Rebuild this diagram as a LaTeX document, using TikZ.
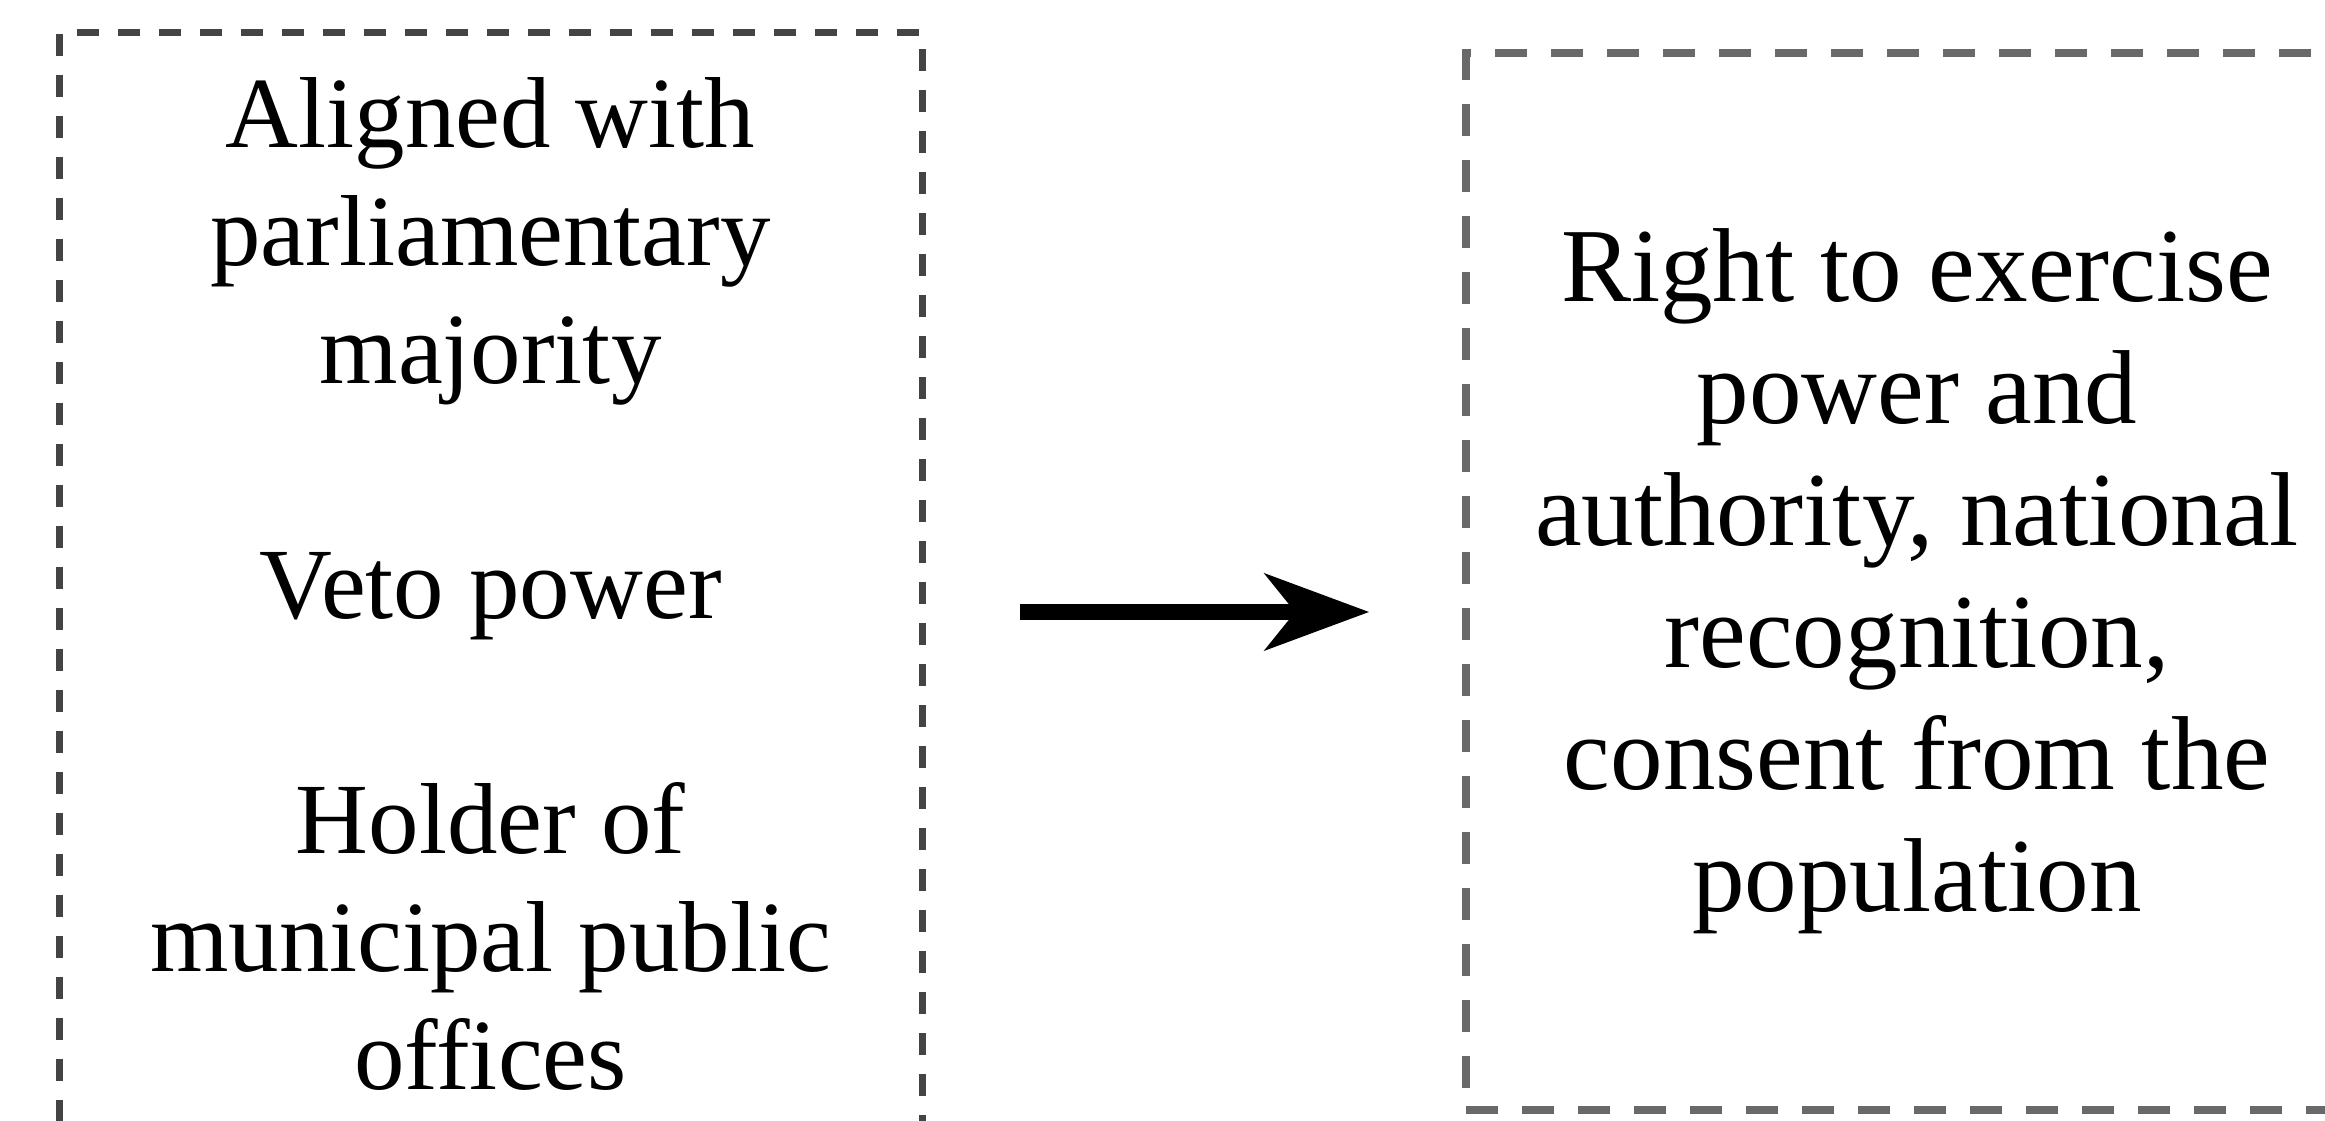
\documentclass[tikz,border=0pt]{standalone}
\usepackage{fontspec}
\setmainfont{Liberation Serif}
\usetikzlibrary{arrows.meta}
\definecolor{darkdash}{HTML}{444444}
\definecolor{greydash}{HTML}{696969}

\begin{document}
\begin{tikzpicture}
  [leftbox/.style={draw=darkdash,line width=0.7mm,dash pattern=on 2.2mm off 1.9mm,
     minimum width=8.63cm,minimum height=11.02cm,align=center,
     font=\fontsize{28.7}{33.5}\selectfont},
   rightbox/.style={draw=greydash,line width=0.75mm,dash pattern=on 3.2mm off 2.4mm,
     minimum width=9.02cm,minimum height=10.57cm,align=center,
     font=\fontsize{29.9}{34.7}\selectfont},
   link/.style={line width=1.6mm,-{Stealth[length=10.4mm,width=7.6mm,inset=3mm]}}]
  \useasboundingbox (0,0) rectangle (23.25,11.21);
  \clip (0,0) rectangle (23.25,11.21);
  \node[leftbox] (n0) at (4.905,5.37) {Aligned with\\parliamentary\\majority\\[33.5pt]Veto power\\[33.5pt]Holder of\\municipal public\\offices};
  \node[rightbox] (n1) at (19.17,5.395) {Right to exercise\\power and\\authority, national\\recognition,\\consent from the\\population};

  \draw [link,shorten <=9.4mm,shorten >=9.3mm] ([yshift=-2.8mm]n0.east) -- ([yshift=-2.8mm]n0.east -| n1.west);

\end{tikzpicture}
\end{document}
